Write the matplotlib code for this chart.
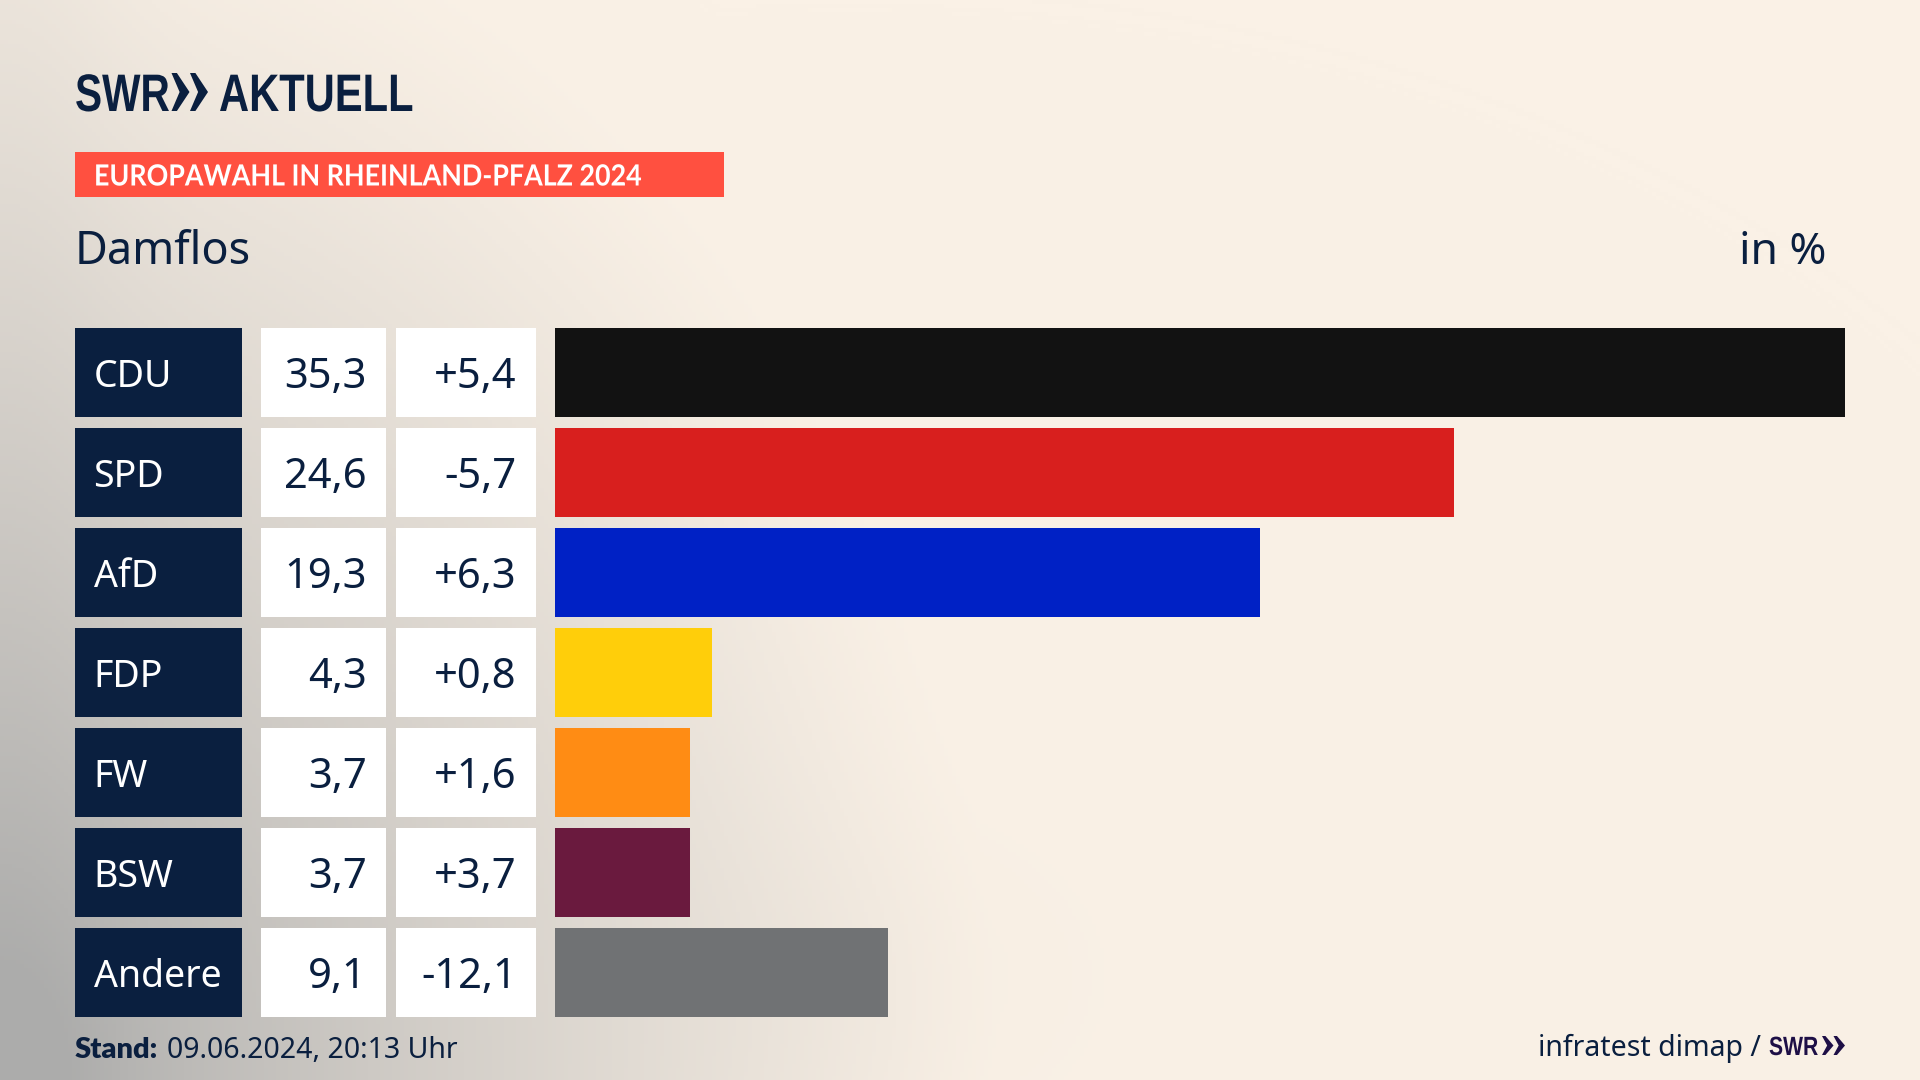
import numpy as np
import matplotlib
matplotlib.use("Agg")
from matplotlib import pyplot as plt
from matplotlib.patches import Polygon, Rectangle
from matplotlib.patheffects import AbstractPathEffect
from matplotlib.transforms import Affine2D

parties = ["CDU", "SPD", "AfD", "FDP", "FW", "BSW", "Andere"]
shares = [35.3, 24.6, 19.3, 4.3, 3.7, 3.7, 9.1]
changes = ["+5,4", "-5,7", "+6,3", "+0,8", "+1,6", "+3,7", "-12,1"]
colors = ["#121212", "#D81F1E", "#0021C5", "#FFCE0A", "#FF8C14", "#6A1A3E", "#707274"]

NAVY = "#0A1F3F"
W, H = 1920, 1080

plt.rcParams['font.family'] = ['Noto Sans', 'DejaVu Sans']


class Squeeze(AbstractPathEffect):
    # narrows a text around its left edge, there is no condensed bold font here
    def __init__(self, x0, sx):
        super().__init__()
        self.x0, self.sx = x0, sx

    def draw_path(self, renderer, gc, tpath, affine, rgbFace=None):
        squeeze = Affine2D().translate(-self.x0, 0).scale(self.sx, 1).translate(self.x0, 0)
        renderer.draw_path(gc, tpath, affine + squeeze, rgbFace)


fig = plt.figure(figsize=(19.2, 10.8), dpi=100)

# pixel axes for background, cells and header
bg = fig.add_axes([0, 0, 1, 1])
bg.set_xlim(0, W)
bg.set_ylim(H, 0)
bg.axis("off")

# background: cream with grey coming from the lower left corner
xx, yy = np.meshgrid(np.linspace(0, W, 480), np.linspace(0, H, 270))
cream = np.array([250, 241, 230]) / 255
grey = np.array([172, 172, 171]) / 255
d = np.sqrt((xx / 1000) ** 2 + ((H - yy) / 1250) ** 2)
t = np.clip(1 - d, 0, 1) ** 1.2
t = t + 0.04 * np.exp(-((xx - 850) / 240) ** 2 - ((yy - 980) / 170) ** 2)
t = t + 0.10 * np.exp(-(xx / 120) ** 2)
t = np.clip(t, 0, 1)[..., None]
bg.imshow(cream * (1 - t) + grey * t, extent=[0, W, H, 0], aspect="auto", zorder=0)

# table cells
row_y = [372.4 + 100 * i for i in range(len(parties))]
bg.barh(row_y, [167] * 7, height=89, left=75, color=NAVY, zorder=1)
bg.barh(row_y, [125] * 7, height=89, left=261, color="white", zorder=1)
bg.barh(row_y, [140] * 7, height=89, left=396, color="white", zorder=1)
for y, name, val, chg in zip(row_y, parties, shares, changes):
    bg.text(93.5, y, name, color="white", fontsize=27, va="center_baseline", zorder=2)
    bg.text(367, y, f"{val:.1f}".replace(".", ","), color=NAVY, fontsize=30,
            ha="right", va="center_baseline", zorder=2)
    bg.text(517, y, chg, color=NAVY, fontsize=30, ha="right", va="center_baseline", zorder=2)

# bars, on their own value axis
ax = fig.add_axes([555 / W, 1 - 1022.4 / H, 1290 / W, 700 / H])
ax.barh(range(len(parties)), shares, height=0.89, color=colors)
ax.set_xlim(0, 35.3)
ax.set_ylim(6.5, -0.5)
ax.axis("off")


# logo
def chevrons(x0, y0, h, w, gap, color):
    for i in range(2):
        x = x0 + i * (w + gap)
        bg.add_patch(Polygon([(x, y0), (x + 0.3 * w, y0), (x + w, y0 + h / 2), (x + 0.3 * w, y0 + h),
                              (x, y0 + h), (x + 0.45 * w, y0 + h / 2)],
                             closed=True, color=color, lw=0, zorder=3))


def logo_text(x, y, s, size, sx, color):
    bg.text(x, y, s, color=color, fontsize=size, fontweight="bold", family="Liberation Sans",
            va="baseline", zorder=3, path_effects=[Squeeze(x, sx)])


logo_text(75, 111, "SWR", 38, 0.77, NAVY)
chevrons(171.5, 73, 38, 18, 0.5, NAVY)
logo_text(219, 111, "AKTUELL", 38, 0.79, NAVY)

# banner
bg.add_patch(Rectangle((75, 152), 649, 45, color="#FF5040", lw=0, zorder=1))
bg.text(94, 175, "EUROPAWAHL IN RHEINLAND-PFALZ 2024", color="white", fontsize=21,
        fontweight="bold", family="Lato", va="center_baseline", zorder=2,
        path_effects=[Squeeze(94, 0.92)])

bg.text(75, 247, "Damflos", color=NAVY, fontsize=32.4, va="center_baseline", zorder=2)
bg.text(1826, 247, "in %", color=NAVY, fontsize=32, ha="right", va="center_baseline", zorder=2)

# footer
bg.text(75, 1058, "Stand:", color=NAVY, fontsize=21, fontweight="heavy", family="Lato", va="baseline", zorder=2)
bg.text(167, 1058, "09.06.2024, 20:13 Uhr", color=NAVY, fontsize=20.5, va="baseline", zorder=2)
bg.text(1761, 1056, "infratest dimap /", color=NAVY, fontsize=20.5, ha="right", va="baseline", zorder=2)
logo_text(1769, 1055, "SWR", 19, 0.8, "#1E0F46")
chevrons(1822, 1036, 19, 11.5, 0, "#1E0F46")

fig.savefig("out.png", dpi=100)
